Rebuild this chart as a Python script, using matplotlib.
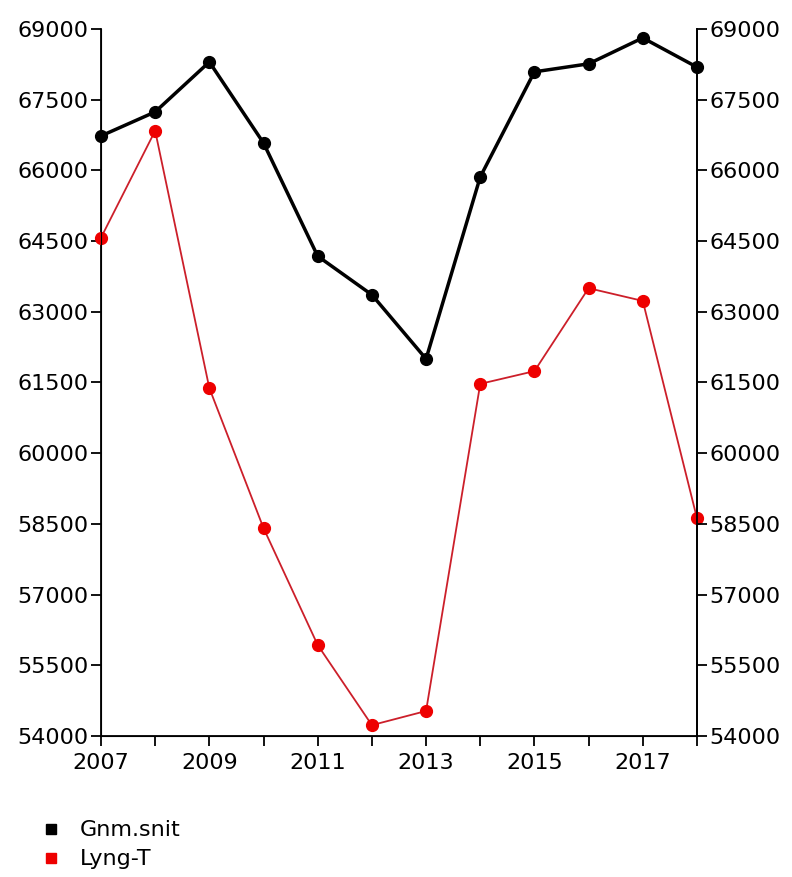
import numpy as np
import matplotlib.pyplot as plt
from matplotlib.lines import Line2D

plt.rcParams['font.family'] = 'DejaVu Sans'

years = list(range(2007, 2019))
gnm_snit = [66730, 67240, 68300, 66580, 64180, 63360, 62000, 65860, 68090, 68260, 68810, 68190]
lyng_t = [64570, 66840, 61380, 58410, 55930, 54230, 54530, 61470, 61740, 63500, 63230, 58620]
y_ticks = list(range(54000, 69001, 1500))
x_labels = [str(y) if y % 2 == 1 else '' for y in years]

fig = plt.figure(figsize=(7.92, 8.77), dpi=100)
ax = fig.add_axes([0.1275, 0.1608, 0.7525, 0.8062])

ax.plot(years, gnm_snit, color='black', lw=2.5, marker='o', ms=8.5, clip_on=False, zorder=3)
ax.plot(years, lyng_t, color='#cc1f2a', lw=1.3, marker='o', ms=8.5,
        mfc='#ee0000', mec='#ee0000', clip_on=False, zorder=3)

ax.set_xlim(2007, 2018)
ax.set_ylim(54000, 69000)
ax.set_xticks(years)
ax.set_xticklabels(x_labels)
ax.set_yticks(y_ticks)
ax.tick_params(direction='out', length=7, width=1.3, labelsize=16, pad=2)
ax.tick_params(axis='x', pad=5)
ax.spines['top'].set_visible(False)
for s in ['left', 'right', 'bottom']:
    ax.spines[s].set_linewidth(1.3)

ax2 = ax.twinx()
ax2.set_ylim(54000, 69000)
ax2.set_yticks(y_ticks)
ax2.tick_params(direction='out', length=7, width=1.3, labelsize=16, pad=2)
ax2.spines['top'].set_visible(False)
ax2.spines['right'].set_linewidth(1.3)

handles = [Line2D([], [], ls='none', marker='s', ms=7, color='black'),
           Line2D([], [], ls='none', marker='s', ms=7, color='#ee0000')]
fig.legend(handles, ['Gnm.snit', 'Lyng-T'], loc='lower left', bbox_to_anchor=(0.025, -0.014),
           frameon=False, fontsize=16, handletextpad=0.8, labelspacing=0.4, handlelength=1.0)

fig.savefig('out.png', dpi=100)
